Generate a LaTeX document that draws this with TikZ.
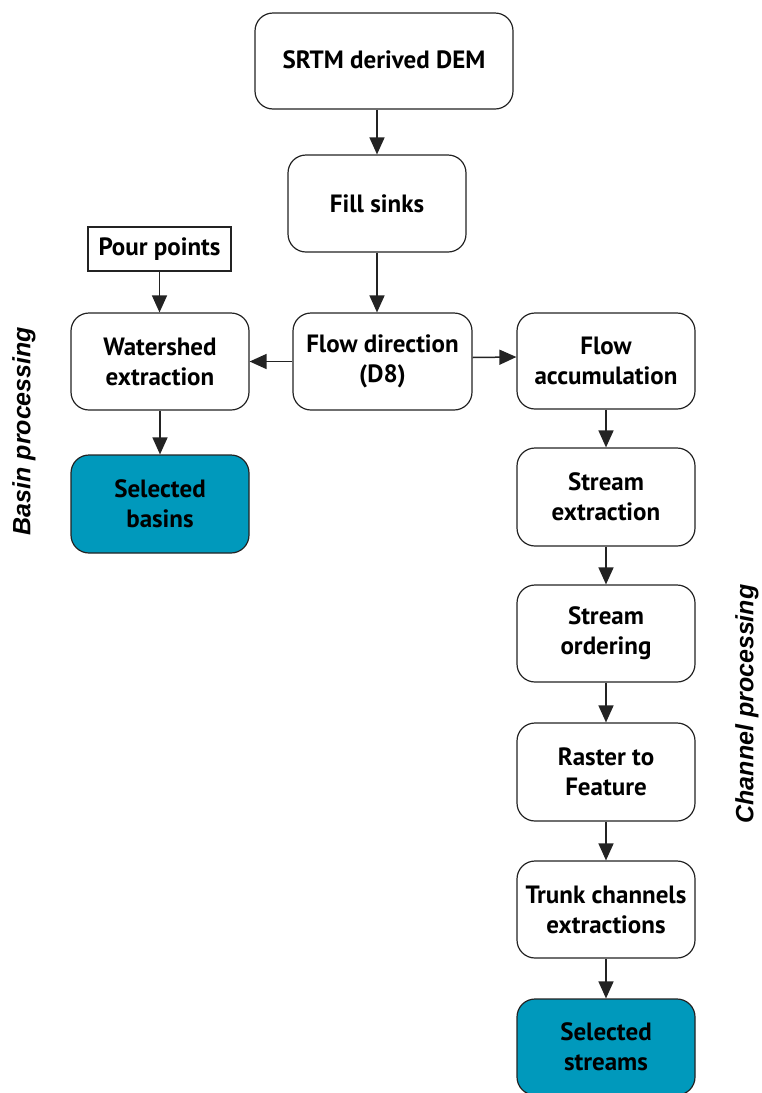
\documentclass[tikz,border=0pt]{standalone}
\usepackage{fontspec}
\setmainfont{PT Sans}
\newfontfamily\labfont{Liberation Sans}
\usetikzlibrary{arrows.meta,positioning}
\definecolor{teal1}{RGB}{0,153,188}
\definecolor{edge}{RGB}{35,35,35}
\tikzset{
  stepbox/.style={draw=edge, line width=1.2pt, rounded corners=18pt, fill=white,
    align=center, inner sep=0pt, font=\bfseries\fontsize{25}{30}\selectfont,
    minimum width=178pt, minimum height=97pt},
  endbox/.style={stepbox, fill=teal1},
  plainbox/.style={draw=edge, line width=1.1pt, fill=white, inner sep=0pt,
    font=\bfseries\fontsize{25}{30}\selectfont, minimum width=143pt, minimum height=44pt},
  conn/.style={draw=edge, line width=1.5pt, -{Triangle[length=17pt,width=15pt]}},
  sidelab/.style={font=\labfont\bfseries\itshape\fontsize{25}{28}\selectfont, rotate=90}
}
\begin{document}
\begin{tikzpicture}[x=1pt,y=-1pt]
\useasboundingbox (0,0) rectangle (761,1093);
\begin{scope}
\clip (0,0) rectangle (761,1093);
\node[stepbox, minimum width=258pt, minimum height=96pt] (srtm) at (384,61) {\raisebox{3pt}{SRTM derived DEM}};
\node[stepbox] (fill) at (377,203.5) {Fill sinks};
\node[plainbox] (pour) at (159.5,249) {Pour points};
\node[stepbox] (water) at (160,361.5) {Watershed\\extraction};
\node[stepbox, minimum width=179pt] (flowdir) at (382.5,361.5) {Flow direction\\(D8)};
\node[endbox, minimum height=98pt] (basins) at (160,504) {Selected\\basins};
\node[stepbox, minimum height=96pt] (accum) at (606,361) {Flow\\accumulation};
\node[stepbox, minimum height=98pt] (sext) at (606,497) {Stream\\extraction};
\node[stepbox] (sord) at (606,633.5) {Stream\\ordering};
\node[stepbox, minimum height=98pt] (raster) at (606,772) {Raster to\\Feature};
\node[stepbox] (trunk) at (606,909.5) {Trunk channels\\extractions};
\node[endbox, minimum height=96pt] (streams) at (606,1047) {Selected\\streams};

\node[sidelab] (basinlab) at (24,431) {Basin processing};
\node[sidelab] (chanlab) at (747,704) {Channel processing};

\draw[conn] (fill.north |- srtm.south) -- (fill.north);
\draw[conn] (fill.south) -- (fill.south |- flowdir.north);
\draw[conn] (pour.south) -- (pour.south |- water.north);
\draw[conn] (flowdir.west) -- (water.east);
\draw[conn] ([yshift=4pt]flowdir.east) -- ([yshift=4pt]accum.west);
\draw[conn] (water.south) -- (basins.north);
\draw[conn] (accum.south) -- (sext.north);
\draw[conn] (sext.south) -- (sord.north);
\draw[conn] (sord.south) -- (raster.north);
\draw[conn] (raster.south) -- (trunk.north);
\draw[conn] (trunk.south) -- (streams.north);
\end{scope}
\end{tikzpicture}
\end{document}
